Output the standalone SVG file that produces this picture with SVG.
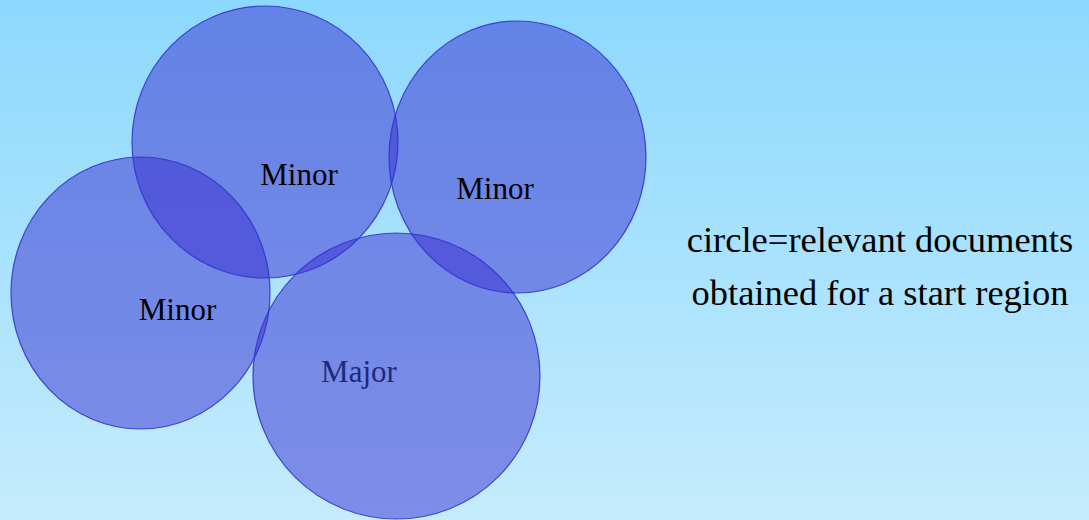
<svg xmlns="http://www.w3.org/2000/svg" width="1089" height="520" viewBox="0 0 1089 520">
  <defs>
    <linearGradient id="bg" x1="0" y1="0" x2="0" y2="1">
      <stop offset="0" stop-color="#8dd8fe"/>
      <stop offset="1" stop-color="#c5ecfc"/>
    </linearGradient>
  </defs>
  <style>
    .c { fill: #372dd0; fill-opacity: 0.5; stroke: #3030c8; stroke-opacity: 0.85; stroke-width: 1.2; }
    .lbl { font-family: "Liberation Serif", serif; font-size: 31px; text-anchor: middle; fill: #000; }
    .note { font-family: "Liberation Serif", serif; font-size: 36.5px; text-anchor: middle; fill: #000; }
  </style>
  <rect x="0" y="0" width="1089" height="520" fill="url(#bg)"/>
  <g id="circle-top-left">
    <ellipse class="c" cx="265" cy="142" rx="133" ry="136"/>
  </g>
  <g id="circle-right">
    <ellipse class="c" cx="517.5" cy="157" rx="128.5" ry="136"/>
  </g>
  <g id="circle-left">
    <ellipse class="c" cx="140.5" cy="293" rx="129.5" ry="136"/>
  </g>
  <g id="circle-major">
    <ellipse class="c" cx="396.5" cy="376" rx="143.5" ry="143"/>
  </g>
  <g id="labels">
    <text class="lbl" x="299" y="185">Minor</text>
    <text class="lbl" x="495" y="199">Minor</text>
    <text class="lbl" x="177.5" y="320">Minor</text>
    <text class="lbl" x="359" y="382" style="fill:#1c2a78">Major</text>
  </g>
  <g id="legend">
    <text class="note" x="880" y="252">circle=relevant documents</text>
    <text class="note" x="880" y="305">obtained for a start region</text>
  </g>
  <g id="connectors"/>
</svg>
